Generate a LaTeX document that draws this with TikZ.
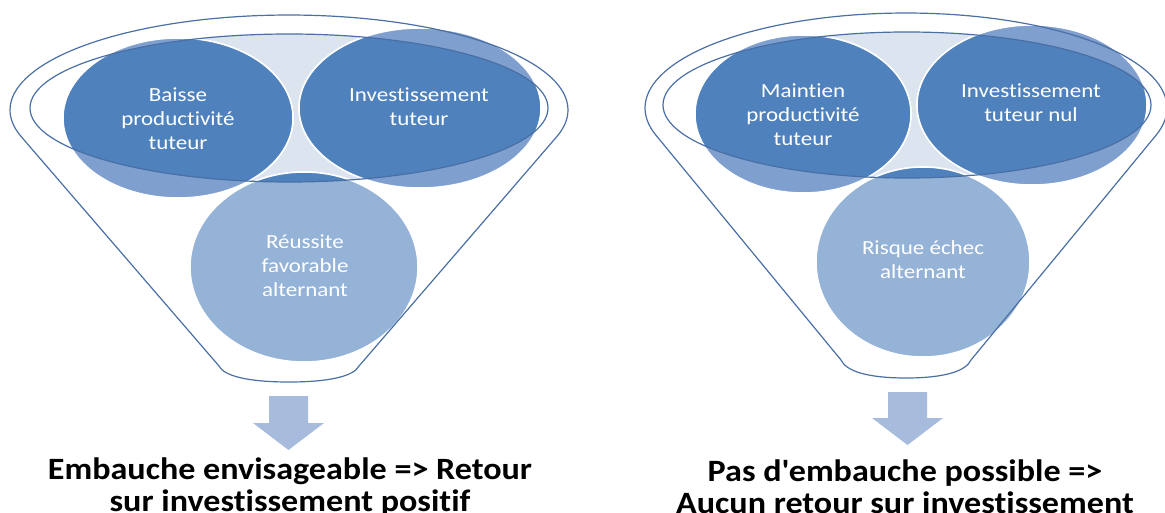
\documentclass[tikz,border=0pt]{standalone}
\usepackage{fontspec}
\setmainfont{Carlito}[Ligatures={NoCommon}]
\newfontfamily\circfont{Carlito}[FakeStretch=1.15, Ligatures={NoCommon}]
\newfontfamily\botfont{Carlito}[FakeStretch=1.1, Ligatures={NoCommon}]
\definecolor{dkblue}{HTML}{4F81BD}
\definecolor{ltblue}{HTML}{7FA0CF}
\definecolor{btblue}{HTML}{95B3D7}
\definecolor{holefill}{HTML}{DCE4F0}
\definecolor{lineblue}{HTML}{4A6FA5}
\definecolor{arrowblue}{HTML}{A7BBDC}
\tikzset{
  x=1pt, y=-1pt,
  lightc/.style={fill=ltblue, draw=white, line width=1.5pt},
  lightb/.style={fill=btblue, draw=white, line width=1.5pt},
  darkc/.style={fill=dkblue, draw=white, line width=1.5pt},
  funline/.style={draw=lineblue, line width=1.2pt},
  ctext/.style={text=white, align=center, font=\circfont\fontsize{20}{24}\selectfont, inner sep=0pt},
  btext/.style={text=black, align=center, font=\botfont\fontsize{31}{32}\selectfont\bfseries, inner sep=0pt},
  blockarrow/.style={fill=arrowblue}
}
\begin{document}
\begin{tikzpicture}
\useasboundingbox (0,0) rectangle (1165,513);
% ================= LEFT FUNNEL =================
\begin{scope}
  \clip (289,108) ellipse [x radius=259pt, y radius=74pt];
  \fill[holefill] (175,20) rectangle (425,200);
\end{scope}
\path[lightc] (178,118) ellipse [x radius=115pt, y radius=80pt];
\path[lightc] (420,108) ellipse [x radius=121pt, y radius=80pt];
\path[lightb] (304,267) ellipse [x radius=114pt, y radius=95pt];
\begin{scope}
  \clip (289,108) ellipse [x radius=259pt, y radius=74pt];
  \path[darkc] (178,118) ellipse [x radius=115pt, y radius=80pt];
  \path[darkc] (420,108) ellipse [x radius=121pt, y radius=80pt];
  \path[darkc] (304,267) ellipse [x radius=114pt, y radius=95pt];
\end{scope}
\draw[funline] (289,108) ellipse [x radius=259pt, y radius=74pt];
\draw[funline] plot[domain=163.7:376.3, samples=90, variable=\t] ({289+279*cos(\t)},{110+95*sin(\t)})
  -- (359,366) .. controls (354,376) and (330,382) .. (289,382)
  .. controls (248,382) and (224,376) .. (219,366) -- cycle;
\node[ctext] (baisse) at (178,119) {Baisse\\productivité\\tuteur};
\node[ctext] (investL) at (419,107) {Investissement\\tuteur};
\node[ctext] (reussite) at (305,266) {Réussite\\favorable\\alternant};
\fill[blockarrow] (269,396) -- (308,396) -- (308,423) -- (324,423) -- (288.5,450) -- (253,423) -- (269,423) -- cycle;
\node[btext] (resL) at (290,487) {Embauche envisageable => Retour\\sur investissement positif};
% ================= RIGHT FUNNEL =================
\begin{scope}
  \clip (907,105) ellipse [x radius=244pt, y radius=73pt];
  \fill[holefill] (800,20) rectangle (1030,200);
\end{scope}
\path[lightc] (803,114) ellipse [x radius=108pt, y radius=79pt];
\path[lightc] (1032,105) ellipse [x radius=115pt, y radius=80pt];
\path[lightb] (923,262) ellipse [x radius=107pt, y radius=95pt];
\begin{scope}
  \clip (907,105) ellipse [x radius=244pt, y radius=73pt];
  \path[darkc] (803,114) ellipse [x radius=108pt, y radius=79pt];
  \path[darkc] (1032,105) ellipse [x radius=115pt, y radius=80pt];
  \path[darkc] (923,262) ellipse [x radius=107pt, y radius=95pt];
\end{scope}
\draw[funline] (907,105) ellipse [x radius=244pt, y radius=73pt];
\draw[funline] plot[domain=163.3:376.7, samples=90, variable=\t] ({906+261*cos(\t)},{108+95*sin(\t)})
  -- (971,360) .. controls (966,371) and (945,378) .. (906,378)
  .. controls (867,378) and (846,371) .. (841,360) -- cycle;
\node[ctext] (maintien) at (803,115) {Maintien\\productivité\\tuteur};
\node[ctext] (investR) at (1031,103) {Investissement\\tuteur nul};
\node[ctext] (risque) at (923,260) {Risque échec\\alternant};
\fill[blockarrow] (888,392) -- (927,392) -- (927,418) -- (943,418) -- (907.5,445) -- (872,418) -- (888,418) -- cycle;
\node[btext] (resR) at (905,487) {Pas d\textquotesingle embauche possible =>\\Aucun retour sur investissement};
\end{tikzpicture}
\end{document}
